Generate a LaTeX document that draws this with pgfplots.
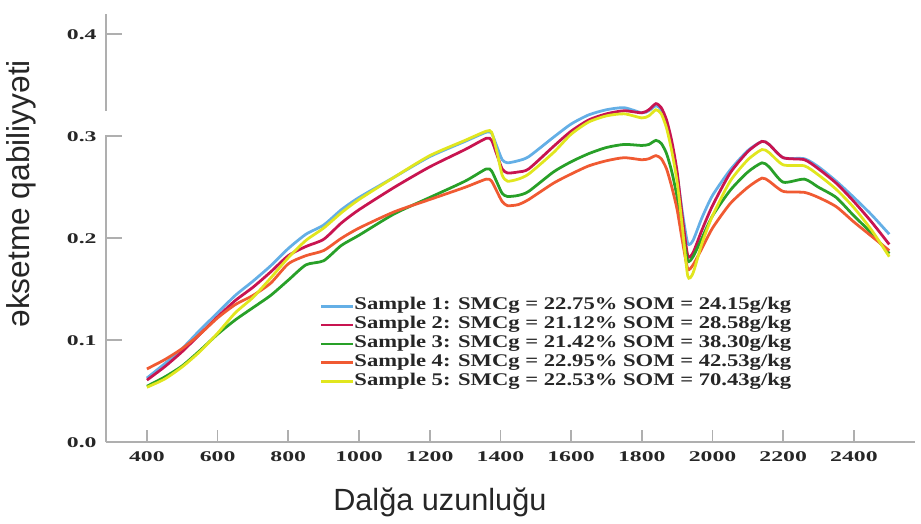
\documentclass[border=0pt]{standalone}
\usepackage{fontspec}
\setmainfont{Liberation Serif}
\newfontfamily\tickfont[FakeStretch=1.6]{Liberation Serif}
\newfontfamily\legfont[FakeStretch=1.27]{Liberation Serif}
\newfontfamily\labfont{Liberation Sans}
\usepackage{pgfplots}
\pgfplotsset{compat=1.18}
\usetikzlibrary{calc}

\definecolor{sblue}{RGB}{100,175,230}
\definecolor{sred}{RGB}{200,20,80}
\definecolor{sgreen}{RGB}{40,160,40}
\definecolor{sorange}{RGB}{240,90,50}
\definecolor{syellow}{RGB}{225,230,30}
\definecolor{axgray}{RGB}{175,175,175}

\pgfplotstableread{
wl    s1    s2    s3    s4    s5
400   0.063 0.061 0.055 0.072 0.054
450   0.077 0.074 0.064 0.081 0.062
500   0.092 0.089 0.075 0.092 0.074
550   0.110 0.106 0.090 0.106 0.089
600   0.127 0.123 0.106 0.122 0.107
650   0.144 0.139 0.120 0.135 0.127
700   0.158 0.152 0.132 0.144 0.142
750   0.173 0.167 0.144 0.156 0.161
800   0.190 0.183 0.159 0.175 0.181
850   0.204 0.192 0.174 0.183 0.198
900   0.213 0.199 0.178 0.188 0.210
950   0.228 0.215 0.193 0.200 0.225
1000  0.240 0.228 0.203 0.210 0.238
1100  0.260 0.250 0.224 0.226 0.260
1200  0.280 0.270 0.240 0.238 0.281
1300  0.295 0.287 0.256 0.250 0.296
1360  0.304 0.298 0.268 0.258 0.305
1375  0.303 0.296 0.266 0.256 0.304
1390  0.290 0.282 0.255 0.246 0.285
1405  0.277 0.268 0.244 0.236 0.262
1420  0.274 0.264 0.241 0.232 0.256
1450  0.276 0.265 0.242 0.233 0.258
1480  0.280 0.268 0.246 0.238 0.263
1550  0.299 0.290 0.265 0.254 0.284
1600  0.312 0.305 0.275 0.263 0.302
1650  0.321 0.316 0.283 0.271 0.314
1700  0.326 0.322 0.289 0.276 0.320
1750  0.328 0.325 0.292 0.279 0.322
1800  0.323 0.323 0.291 0.277 0.318
1820  0.325 0.326 0.292 0.278 0.320
1840  0.330 0.332 0.296 0.281 0.326
1855  0.326 0.328 0.293 0.278 0.322
1870  0.312 0.316 0.283 0.268 0.308
1885  0.290 0.295 0.265 0.250 0.285
1900  0.262 0.265 0.240 0.228 0.255
1915  0.225 0.220 0.205 0.197 0.210
1930  0.195 0.183 0.178 0.170 0.163
1945  0.198 0.186 0.182 0.174 0.166
1970  0.220 0.208 0.200 0.190 0.195
2000  0.242 0.232 0.222 0.210 0.222
2050  0.267 0.264 0.247 0.234 0.256
2100  0.286 0.285 0.265 0.250 0.277
2140  0.295 0.295 0.274 0.259 0.287
2160  0.292 0.292 0.270 0.256 0.284
2200  0.279 0.279 0.255 0.246 0.272
2260  0.278 0.277 0.258 0.245 0.271
2300  0.270 0.268 0.250 0.240 0.262
2350  0.256 0.254 0.240 0.231 0.248
2400  0.240 0.236 0.222 0.216 0.230
2450  0.223 0.216 0.205 0.202 0.208
2500  0.204 0.194 0.185 0.188 0.182
}\spectra

\begin{document}
\begin{tikzpicture}
\begin{axis}[
  scale only axis,
  width=409pt, height=216.5pt,
  xmin=283, xmax=2573,
  ymin=0, ymax=0.42,
  axis lines*=left,
  axis line style={axgray, line width=1pt},
  xtick={400,600,...,2400},
  ytick={0,0.1,0.2,0.3,0.4},
  tick align=inside,
  tick style={axgray, line width=0.9pt},
  xtick style={/pgfplots/major tick length=6pt},
  ytick style={/pgfplots/major tick length=8.5pt},
  xticklabel style={font=\tickfont\bfseries\fontsize{7.5}{8}\selectfont, text=black!85, yshift=-1pt},
  yticklabel style={font=\tickfont\bfseries\fontsize{7.5}{8}\selectfont, text=black!85, xshift=-1pt},
  yticklabel={\pgfmathprintnumber[fixed, fixed zerofill, precision=1]{\tick}},
  scaled y ticks=false,
  xticklabel={\pgfmathprintnumber[fixed, 1000 sep={}]{\tick}},
  /pgf/number format/assume math mode=true,
  xlabel={Dalğa uzunluğu},
  ylabel={əksetme qabiliyyəti},
  xlabel style={font=\labfont\fontsize{15.5}{17}\selectfont, text=black!85, at={(axis description cs:0.413,-0.141)}, anchor=center},
  ylabel style={font=\labfont\fontsize{16}{18}\selectfont, text=black!85, at={(axis description cs:-0.104,0.58)}, anchor=center},
  legend cell align=left,
  legend style={at={(rel axis cs:0.262,0.345)}, anchor=north west, draw=none, fill=none,
    font=\legfont\bfseries\fontsize{9}{9.5}\selectfont, text=black!85,
    row sep=0pt, inner sep=1pt,
    nodes={inner sep=0pt, text height=6.6pt, text depth=2.9pt}},
  legend image code/.code={\draw[#1, line width=1.4pt] (0pt,0pt) -- (16pt,0pt);},
  every axis plot/.append style={line width=1.4pt, smooth, tension=0.4},
  clip=false,
]
\addplot[sblue] table[x=wl, y=s1] {\spectra};
\addplot[sred] table[x=wl, y=s2] {\spectra};
\addplot[sgreen] table[x=wl, y=s3] {\spectra};
\addplot[sorange] table[x=wl, y=s4] {\spectra};
\addplot[syellow] table[x=wl, y=s5] {\spectra};
\legend{Sample 1: SMCg = 22.75\% SOM = 24.15g/kg,
        Sample 2: SMCg = 21.12\% SOM = 28.58g/kg,
        Sample 3: SMCg = 21.42\% SOM = 38.30g/kg,
        Sample 4: SMCg = 22.95\% SOM = 42.53g/kg,
        Sample 5: SMCg = 22.53\% SOM = 70.43g/kg}
\draw[white, line width=4pt] (rel axis cs:0,0.718) -- (rel axis cs:0,0.774);
\end{axis}
\path ($(current axis.south west)+(-50pt,-40.5pt)$) rectangle ($(current axis.north east)+(3pt,7pt)$);
\end{tikzpicture}
\end{document}
